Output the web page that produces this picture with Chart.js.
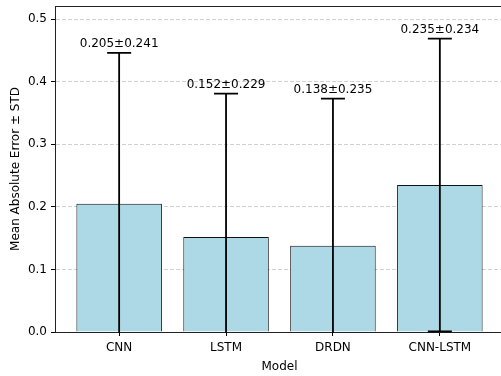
<!DOCTYPE html>
<html>
<head>
<meta charset="utf-8">
<script src="https://cdn.jsdelivr.net/npm/chart.js@4.4.1/dist/chart.umd.min.js"></script>
<style>
  html, body { margin: 0; padding: 0; background: #fff; overflow: hidden; }
  #wrap { width: 504px; height: 376px; }
</style>
</head>
<body>
<div id="wrap"><canvas id="c" width="504" height="376"></canvas></div>
<script>
// Per-model error statistics
const models = ['CNN', 'LSTM', 'DRDN', 'CNN-LSTM'];
const maeMean = [0.205, 0.152, 0.138, 0.235];
const maeStd = [0.241, 0.229, 0.235, 0.234];
const yTicks = [0.0, 0.1, 0.2, 0.3, 0.4, 0.5];
const yMax = 0.521;

const FONT = 'DejaVu Sans';

// Error bars (mean ± std) with caps, plus value labels above each upper cap
const errorBars = {
  id: 'errorBars',
  afterDatasetsDraw(chart) {
    const { ctx, chartArea: a, scales: { x, y } } = chart;
    ctx.save();
    ctx.beginPath();
    ctx.rect(a.left, a.top, a.right - a.left, a.bottom - a.top + 1);
    ctx.clip();
    ctx.strokeStyle = '#000';
    ctx.lineWidth = 1.8;
    const cap = 12;
    maeMean.forEach((m, i) => {
      const px = x.getPixelForValue(i);
      const top = y.getPixelForValue(m + maeStd[i]);
      const bot = y.getPixelForValue(m - maeStd[i]);
      ctx.beginPath();
      ctx.moveTo(px, top);
      ctx.lineTo(px, bot);
      ctx.moveTo(px - cap, top);
      ctx.lineTo(px + cap, top);
      ctx.moveTo(px - cap, bot);
      ctx.lineTo(px + cap, bot);
      ctx.stroke();
    });
    ctx.restore();

    ctx.save();
    ctx.fillStyle = '#000';
    ctx.font = '12px "' + FONT + '"';
    ctx.textAlign = 'center';
    ctx.textBaseline = 'alphabetic';
    maeMean.forEach((m, i) => {
      const px = x.getPixelForValue(i);
      const top = y.getPixelForValue(m + maeStd[i]);
      ctx.fillText(m.toFixed(3) + '\u00b1' + maeStd[i].toFixed(3), px, top - 5.5);
    });
    ctx.restore();
  }
};

// Top edge of the axes frame
const frameTop = {
  id: 'frameTop',
  afterDatasetsDraw(chart) {
    const { ctx, chartArea: a } = chart;
    ctx.save();
    ctx.strokeStyle = '#222';
    ctx.lineWidth = 1;
    ctx.beginPath();
    ctx.moveTo(a.left, Math.round(a.top) + 0.5);
    ctx.lineTo(a.right, Math.round(a.top) + 0.5);
    ctx.stroke();
    ctx.restore();
  }
};

new Chart(document.getElementById('c'), {
  type: 'bar',
  data: {
    datasets: [{
      data: maeMean.map((m, i) => ({ x: i, y: m })),
      backgroundColor: '#add8e6',
      borderColor: '#111',
      borderWidth: 1,
      categoryPercentage: 0.8,
      barPercentage: 1.0
    }]
  },
  options: {
    responsive: false,
    devicePixelRatio: 1,
    animation: false,
    layout: { padding: { top: 6, left: 0, right: 0, bottom: 0 } },
    plugins: { legend: { display: false }, tooltip: { enabled: false } },
    scales: {
      x: {
        type: 'linear',
        min: -0.6,
        max: 3.6,
        offset: false,
        afterBuildTicks(axis) { axis.ticks = models.map((_, i) => ({ value: i })); },
        afterFit(axis) { axis.height = 44; },
        ticks: {
          autoSkip: false,
          maxRotation: 0,
          padding: 5,
          color: '#000',
          font: { family: FONT, size: 12 },
          callback: (v) => models[v]
        },
        grid: { display: true, offset: false, drawOnChartArea: false, drawTicks: true, tickLength: 4, tickColor: '#000', tickWidth: 1 },
        border: { display: true, color: '#222', width: 1 },
        title: { display: true, text: 'Model', color: '#000', font: { family: FONT, size: 12 }, padding: { top: 0, bottom: 2 } }
      },
      y: {
        min: 0,
        max: yMax,
        afterBuildTicks(axis) { axis.ticks = yTicks.map(v => ({ value: v })); },
        afterFit(axis) { axis.width = 55; axis.paddingTop = 0; axis.paddingBottom = 0; },
        ticks: {
          padding: 4,
          color: '#000',
          font: { family: FONT, size: 12 },
          callback: (v) => Number(v).toFixed(1)
        },
        grid: { color: 'rgba(190,190,190,0.7)', lineWidth: 1, tickLength: 4, tickColor: '#000', tickWidth: 1 },
        border: { display: true, color: '#222', width: 1, dash: [4, 2] },
        title: { display: true, text: 'Mean Absolute Error \u00b1 STD', color: '#000', font: { family: FONT, size: 12 }, padding: { top: 9, bottom: 0 } }
      }
    }
  },
  plugins: [errorBars, frameTop]
});
</script>
</body>
</html>
